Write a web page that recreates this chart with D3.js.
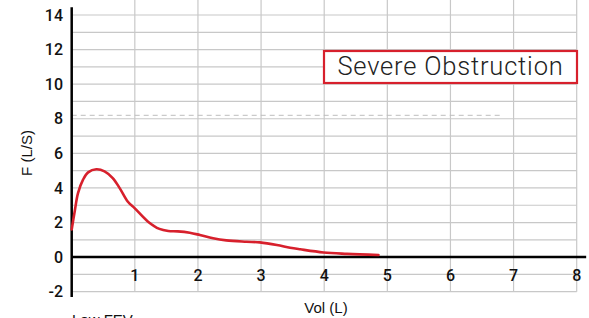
<!DOCTYPE html>
<html>
<head>
<meta charset="utf-8">
<script src="https://cdn.jsdelivr.net/npm/d3@7"></script>
<style>
  body { margin: 0; background: #fff; }
  svg { display: block; }
  text { font-family: "Liberation Sans", Arial, sans-serif; fill: #111; }
</style>
</head>
<body>
<svg width="589" height="318"></svg>
<script>
// data
var volume = [0, 0.05, 0.1, 0.18, 0.26, 0.39, 0.52, 0.65, 0.76, 0.89, 1.0, 1.21, 1.39, 1.53, 1.68, 1.87, 2.03, 2.24, 2.45, 2.77, 2.98, 3.25, 3.46, 3.62, 3.99, 4.36, 4.86]
var flow = [1.6, 2.7, 3.7, 4.48, 4.9, 5.08, 4.96, 4.57, 3.99, 3.2, 2.82, 2.05, 1.63, 1.51, 1.49, 1.41, 1.28, 1.09, 0.97, 0.89, 0.85, 0.70, 0.54, 0.45, 0.27, 0.19, 0.12]
var xTicks = [1, 2, 3, 4, 5, 6, 7, 8]
var yTicks = [-2, 0, 2, 4, 6, 8, 10, 12, 14]
var yGrid = d3.range(-2, 15, 1)
var refFlow = 8.2      // dashed reference line
var refVolEnd = 6.8
var legendLabel = "Severe Obstruction"

var svg = d3.select("svg")

var x = d3.scaleLinear().domain([0, 8]).range([71.7, 576.7])
var y = d3.scaleLinear().domain([-2, 14]).range([291.7, 15])

var grid = svg.append("g").attr("stroke", "#c8c8c8").attr("stroke-width", 1.2)

// horizontal grid
grid.selectAll(".h")
    .data(yGrid)
    .enter()
    .append("line")
    .attr("x1", x(0))
    .attr("x2", x(8))
    .attr("y1", function (d) { return y(d); })
    .attr("y2", function (d) { return y(d); })

// vertical grid
grid.selectAll(".v")
    .data(xTicks)
    .enter()
    .append("line")
    .attr("x1", function (d) { return x(d); })
    .attr("x2", function (d) { return x(d); })
    .attr("y1", y(-2))
    .attr("y2", y(14.9))

// dashed reference
svg.append("line")
    .attr("x1", x(0))
    .attr("x2", x(refVolEnd))
    .attr("y1", y(refFlow))
    .attr("y2", y(refFlow))
    .attr("stroke", "#bdbdbd")
    .attr("stroke-width", 1)
    .attr("stroke-dasharray", "5,4")

// axes lines
svg.append("line")
    .attr("x1", x(0)).attr("x2", x(8.15))
    .attr("y1", y(0)).attr("y2", y(0))
    .attr("stroke", "#000").attr("stroke-width", 2.5)

svg.append("line")
    .attr("x1", x(0)).attr("x2", x(0))
    .attr("y1", y(14.45)).attr("y2", y(-2.3))
    .attr("stroke", "#000").attr("stroke-width", 2.5)

// tick labels
svg.append("g")
    .selectAll("text")
    .data(yTicks)
    .enter()
    .append("text")
    .attr("x", 63)
    .attr("y", function (d) { return y(d) + 5.7; })
    .attr("text-anchor", "end")
    .style("font-family", "Roboto, sans-serif")
    .style("font-size", "16px")
    .style("font-weight", 500)
    .text(function (d) { return d; })

svg.append("g")
    .selectAll("text")
    .data(xTicks)
    .enter()
    .append("text")
    .attr("x", function (d) { return x(d); })
    .attr("y", 281)
    .attr("text-anchor", "middle")
    .style("font-family", "Roboto, sans-serif")
    .style("font-size", "16px")
    .style("font-weight", 500)
    .text(function (d) { return d; })

// axis titles
svg.append("text")
    .attr("transform", "translate(32,153) rotate(-90)")
    .attr("text-anchor", "middle")
    .style("font-size", "15px")
    .text("F (L/S)")

svg.append("text")
    .attr("x", 326)
    .attr("y", 313)
    .attr("text-anchor", "middle")
    .style("font-size", "15px")
    .text("Vol (L)")

svg.append("text")
    .attr("x", 72)
    .attr("y", 325)
    .style("font-size", "15px")
    .text("Low   FEV")

// curve
var line = d3.line()
    .x(function (d, i) { return x(volume[i]); })
    .y(function (d) { return y(d); })
    .curve(d3.curveCatmullRom.alpha(0.5))

svg.append("path")
    .datum(flow)
    .attr("d", line)
    .attr("fill", "none")
    .attr("stroke", "#d7202c")
    .attr("stroke-width", 2.6)
    .attr("stroke-linecap", "round")

// legend box
var lg = svg.append("g")
lg.append("rect")
    .attr("x", 324).attr("y", 51)
    .attr("width", 253).attr("height", 32)
    .attr("fill", "#fff")
    .attr("stroke", "#d7202c")
    .attr("stroke-width", 2.2)
lg.append("text")
    .attr("x", 450.5)
    .attr("y", 75)
    .attr("text-anchor", "middle")
    .style("font-family", "Roboto, sans-serif")
    .style("font-weight", 300)
    .style("font-size", "25.5px")
    .style("letter-spacing", "0.8px")
    .style("fill", "#222")
    .text(legendLabel)
</script>
</body>
</html>
